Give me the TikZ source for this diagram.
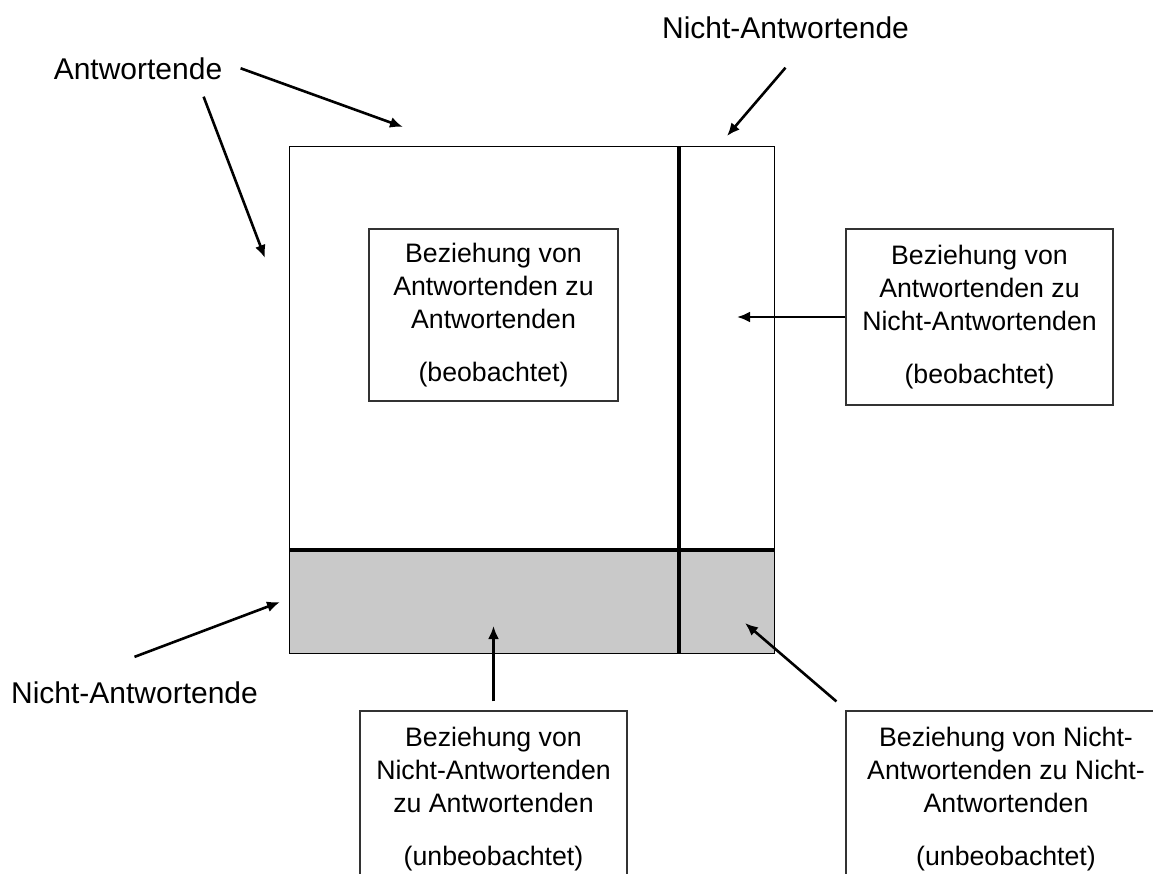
\documentclass[tikz,border=0pt]{standalone}
\usepackage{fontspec}
\setmainfont{Liberation Sans}
\usetikzlibrary{arrows.meta}

\begin{document}
\begin{tikzpicture}[x=0.5pt,y=-0.5pt]

      \useasboundingbox (0,0) rectangle (1153,874);
      \clip (0,0) rectangle (1153,874);

      \fill[gray!42] (289,550) rectangle (774,653);
      \draw[line width=0.5pt] (289,146) rectangle (774,653);
      \draw[line width=2pt] (289,550) -- (774,550);
      \draw[line width=2pt] (679,146) -- (679,653);

      \begin{scope}[every node/.style={draw=black!80,line width=0.6pt,align=center,inner sep=0pt,
          font=\fontsize{13.35}{16.5}\selectfont}]
        \node[minimum width=124.5pt,minimum height=86pt] (aa) at (493.5,315) {Beziehung von\\Antwortenden zu\\Antwortenden\\[10pt](beobachtet)};
        \node[minimum width=133.5pt,minimum height=88pt] (an) at (979.5,317) {Beziehung von\\Antwortenden zu\\Nicht-Antwortenden\\[10pt](beobachtet)};
        \node[minimum width=133.5pt,minimum height=88pt] (na) at (493.5,799) {Beziehung von\\Nicht-Antwortenden\\zu Antwortenden\\[10pt](unbeobachtet)};
        \node[minimum width=160pt,minimum height=88pt] (nn) at (1006,799) {Beziehung von Nicht-\\Antwortenden zu Nicht-\\Antwortenden\\[10pt](unbeobachtet)};
      \end{scope}

      \begin{scope}[every node/.style={anchor=base,inner sep=0pt,font=\fontsize{15}{18}\selectfont}]
        \node (antw) at (138,79) {Antwortende};
        \node (nantw) at (785.5,38) {Nicht-Antwortende};
        \node (nantwl) at (134.5,703) {Nicht-Antwortende};
      \end{scope}

      \coordinate (h1) at (403,127);
      \coordinate (h2) at (265,258);
      \coordinate (h3) at (727,136);
      \coordinate (h4) at (737,317);
      \coordinate (h5) at (280,602);
      \coordinate (h6) at (493.5,626);
      \coordinate (h7) at (745,623);

      \begin{scope}[every edge/.style={draw,line width=1.3pt,-{Latex[length=6.5pt,width=5.5pt]}}]
        \path ([xshift=9pt]antw.east) edge (h1);
        \path ([xshift=-9.5pt,yshift=-8.5pt]antw.south east) edge (h2);
        \path ([yshift=-14.5pt]nantw.south) edge (h3);
        \path (an.west) edge (h4);
        \path ([yshift=12pt]nantwl.north) edge (h5);
        \path ([yshift=4.5pt]na.north) edge (h6);
        \path ([xshift=-4.5pt,yshift=4.5pt]nn.north west) edge (h7);
      \end{scope}

    \end{tikzpicture}
\end{document}
